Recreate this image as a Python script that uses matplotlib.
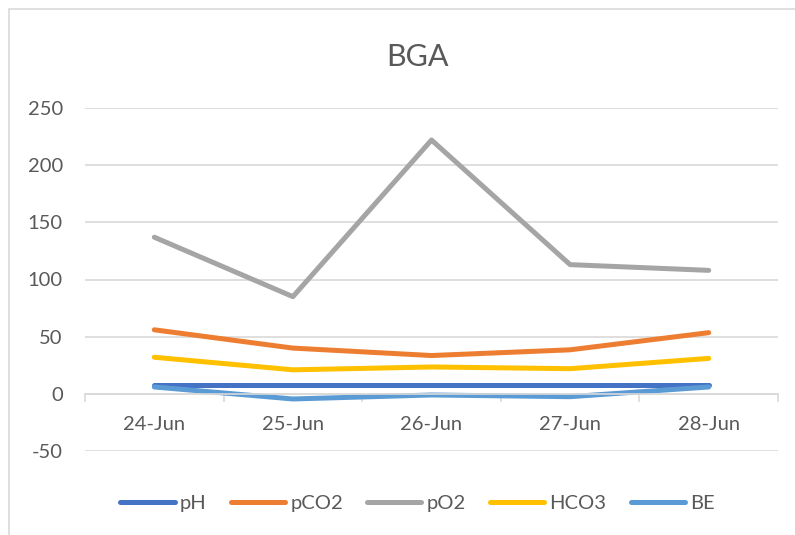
import matplotlib
matplotlib.use('Agg')
import matplotlib.pyplot as plt
from matplotlib.patches import Rectangle
import numpy as np

plt.rcParams['font.family'] = ['Lato', 'DejaVu Sans']
plt.rcParams['axes.unicode_minus'] = False

# blood gas values per day
dates = ['24-Jun', '25-Jun', '26-Jun', '27-Jun', '28-Jun']
ph = [7.4, 7.4, 7.4, 7.4, 7.4]
pco2 = [56, 40, 33.5, 38.5, 53.5]
po2 = [137, 85, 222, 113, 108]
hco3 = [32, 21, 23.5, 22, 31]
be = [6, -4.5, -1, -2.5, 6]

series = [('pH', ph, '#4472C4'),
          ('pCO2', pco2, '#ED7D31'),
          ('pO2', po2, '#A5A5A5'),
          ('HCO3', hco3, '#FFC000'),
          ('BE', be, '#5B9BD5')]

text_col = '#595959'
grid_col = '#D9D9D9'
fs = 14.5

fig = plt.figure(figsize=(7.95, 5.35), dpi=100)
# chart frame
fig.patches.append(Rectangle((9 / 795, -0.1), 1.2, (535 - 9) / 535 + 0.1,
                             transform=fig.transFigure, fill=False,
                             edgecolor=grid_col, lw=1.2))

ax = fig.add_axes([85 / 795, 84 / 535, 693 / 795, 343 / 535])
x = np.arange(len(dates))
for name, vals, col in series:
    ax.plot(x, vals, color=col, lw=3.6, label=name, solid_capstyle='round')

ax.set_xlim(-0.5, len(dates) - 0.5)
ax.set_ylim(-50, 250)
ax.set_yticks(np.arange(-50, 251, 50))
ax.yaxis.grid(True, color=grid_col, lw=1.2)
ax.set_axisbelow(True)
ax.tick_params(axis='y', length=0, pad=16, labelsize=fs, labelcolor=text_col)

# category axis crosses at zero
for s in ['left', 'right', 'top']:
    ax.spines[s].set_visible(False)
ax.spines['bottom'].set_position(('data', 0))
ax.spines['bottom'].set_color(grid_col)
ax.spines['bottom'].set_linewidth(1.2)
ax.set_xticks(np.arange(-0.5, len(dates), 1.0))
ax.set_xticklabels([])
ax.tick_params(axis='x', which='major', length=6, width=1.2, color=grid_col)
ax.set_xticks(x, minor=True)
ax.set_xticklabels(dates, minor=True)
ax.tick_params(axis='x', which='minor', length=0, pad=16, labelsize=fs,
               labelcolor=text_col)

fig.text(0.5 + 20 / 795, 1 - 57 / 535, 'BGA', ha='center', va='center',
         fontsize=22, color=text_col)

leg = fig.legend(loc='center', bbox_to_anchor=(0.5 + 20 / 795, 1 - 503 / 535),
                 ncol=5, frameon=False, fontsize=fs, handlelength=2.7,
                 columnspacing=1.2, handletextpad=0.25)
for t in leg.get_texts():
    t.set_color(text_col)
for h in leg.legend_handles:
    h.set_solid_capstyle('round')

fig.savefig('out.png', dpi=100)
